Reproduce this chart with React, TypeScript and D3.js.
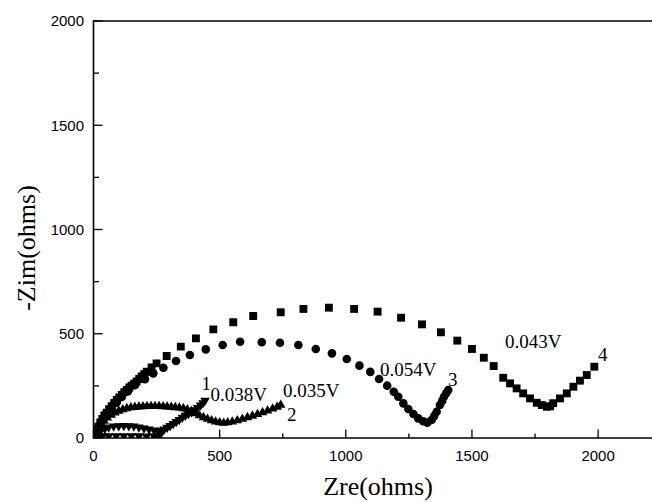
import React from 'react';
import * as d3 from 'd3';

// Nyquist plots: Zre (ohms) vs -Zim (ohms) at different potentials
const xTickValues = [0, 500, 1000, 1500, 2000];
const yTickValues = [0, 500, 1000, 1500, 2000];
const minorStep = 250;

// 0.038V (down triangles)
const series1: [number, number][] = [
  [0, 0], [15, 8], [35, 9], [60, 9], [90, 10], [120, 10], [150, 10], [180, 9], [210, 8], [240, 8], [262, 10],
  [8, 15], [18, 28], [30, 38], [45, 46], [60, 52], [80, 56], [100, 58], [120, 59], [140, 58], [160, 56],
  [180, 52], [200, 47], [220, 42], [240, 37], [258, 33], [270, 36], [280, 42], [292, 50], [304, 59],
  [316, 68], [328, 78], [340, 88], [352, 98], [364, 108], [376, 117], [388, 125], [400, 134], [412, 145],
  [424, 157], [434, 168], [442, 180],
];

// 0.035V (up triangles)
const series2: [number, number][] = [
  [0, 0], [6, 18], [12, 34], [20, 50], [30, 66], [42, 82], [55, 97], [70, 110], [85, 121], [100, 130],
  [116, 137], [132, 142], [148, 146], [164, 148], [180, 150], [196, 151], [212, 152], [228, 152],
  [244, 152], [260, 152], [276, 151], [292, 150], [308, 149], [324, 147], [340, 145], [356, 142],
  [372, 137], [388, 128], [404, 118], [420, 108], [436, 99], [452, 91], [468, 84], [484, 78], [500, 74],
  [516, 72], [532, 74], [550, 78], [570, 84], [590, 91], [610, 99], [630, 106], [650, 114], [670, 122],
  [690, 131], [710, 140], [728, 149], [742, 158],
];

// 0.054V (circles)
const series3: [number, number][] = [
  [0, 2], [5, 10], [10, 25], [18, 45], [28, 68], [40, 92], [55, 118], [72, 145], [92, 172], [113, 198],
  [137, 225], [165, 254], [204, 282], [237, 310], [277, 337], [327, 369], [382, 398], [445, 425],
  [512, 446], [581, 462], [667, 459], [739, 457], [812, 446], [881, 427], [945, 406], [1004, 379],
  [1054, 347], [1097, 317], [1132, 283], [1164, 251], [1190, 222], [1208, 198], [1228, 166],
  [1248, 139], [1268, 115], [1287, 94], [1307, 80], [1323, 73], [1340, 86], [1350, 105], [1360, 126],
  [1373, 158], [1382, 178], [1389, 198], [1398, 215], [1406, 230],
];

// 0.043V (squares)
const series4: [number, number][] = [
  [0, 2], [6, 8], [12, 30], [19, 54], [27, 75], [35, 92], [43, 108], [52, 122], [62, 138], [72, 152],
  [82, 168], [92, 182], [102, 195], [112, 207], [122, 220], [132, 231], [142, 242], [151, 251],
  [161, 261], [171, 271], [181, 283], [191, 295], [201, 306], [211, 318], [230, 339], [250, 358],
  [290, 393], [346, 438], [406, 478], [475, 521], [554, 555], [633, 585], [742, 603], [832, 619],
  [933, 625], [1033, 619], [1126, 606], [1219, 577], [1302, 545], [1377, 507], [1442, 467],
  [1500, 427], [1547, 385], [1586, 345], [1624, 289], [1651, 262], [1677, 238], [1703, 214],
  [1730, 190], [1757, 169], [1777, 158], [1797, 150], [1810, 152], [1822, 167], [1849, 190],
  [1876, 214], [1902, 246], [1928, 275], [1955, 302], [1985, 342],
];

// Potential and curve-number labels, placed in data units
const labelTexts = ['0.043V', '4', '0.054V', '3', '1', '0.038V', '0.035V', '2'];
const labelZre = [1631, 2000, 1136, 1405, 428, 464, 751, 767];
const labelZim = [432, 369, 297, 249, 228, 177, 197, 82];

const W = 652;
const H = 502;
const left = 93.5;
const top = 21;
const bottom = 438;
const pxPerOhm = 0.2523;

export default function App() {
  const x = d3.scaleLinear().domain([0, 2250]).range([left, left + 2250 * pxPerOhm]);
  const y = d3.scaleLinear().domain([0, 2000]).range([bottom, top]);
  const right = x(2250);

  const sq = d3.symbol().type(d3.symbolSquare).size(62)() as string;
  const circ = d3.symbol().type(d3.symbolCircle).size(58)() as string;
  const tri = d3.symbol().type(d3.symbolTriangle).size(40)() as string;

  const minorX = d3.range(0, 2251, minorStep);
  const minorY = d3.range(0, 2001, minorStep);

  const sans = "'Liberation Sans', Arial, sans-serif";
  const serif = "'Liberation Serif', 'Times New Roman', serif";

  const renderSeries = (data: [number, number][], path: string, rotate = 0) =>
    data.map(([zr, zi], i) => (
      <path
        key={i}
        d={path}
        fill="#000"
        transform={`translate(${x(zr)},${y(zi)})${rotate ? ` rotate(${rotate})` : ''}`}
      />
    ));

  return (
    <svg
      width={W}
      height={H}
      style={{ position: 'absolute', left: 0, top: 0, background: '#fff' }}
    >
      <defs>
        <clipPath id="plotClip">
          <rect x={left} y={top} width={right - left} height={bottom - top} />
        </clipPath>
      </defs>
      <rect x={0} y={0} width={W} height={H} fill="#fff" />

      <g clipPath="url(#plotClip)">
        {renderSeries(series4, sq)}
        {renderSeries(series3, circ)}
        {renderSeries(series2, tri)}
        {renderSeries(series1, tri, 180)}
      </g>

      {/* frame */}
      <path
        d={`M${right},${top}H${left}V${bottom}H${right}`}
        fill="none"
        stroke="#000"
        strokeWidth={1.6}
      />

      {/* ticks */}
      {minorX.map((v) => (
        <line
          key={`mx${v}`}
          x1={x(v)}
          x2={x(v)}
          y1={bottom}
          y2={bottom - (v % 500 === 0 ? 8.5 : 4.5)}
          stroke="#000"
          strokeWidth={1.3}
        />
      ))}
      {minorY.map((v) => (
        <line
          key={`my${v}`}
          x1={left}
          x2={left + (v % 500 === 0 ? 9 : 5.5)}
          y1={y(v)}
          y2={y(v)}
          stroke="#000"
          strokeWidth={1.3}
        />
      ))}

      {xTickValues.map((v) => (
        <text
          key={`xt${v}`}
          x={x(v)}
          y={460.5}
          textAnchor="middle"
          fontFamily={sans}
          fontSize={15}
        >
          {v}
        </text>
      ))}
      {yTickValues.map((v) => (
        <text
          key={`yt${v}`}
          x={84}
          y={y(v) + 5.3}
          textAnchor="end"
          fontFamily={sans}
          fontSize={15}
        >
          {v}
        </text>
      ))}

      <text x={378} y={495} textAnchor="middle" fontFamily={serif} fontSize={26}>
        Zre(ohms)
      </text>
      <text
        transform={`translate(35,248) rotate(-90)`}
        textAnchor="middle"
        fontFamily={serif}
        fontSize={26}
      >
        -Zim(ohms)
      </text>

      {labelTexts.map((t, i) => (
        <text
          key={`lb${i}`}
          x={x(labelZre[i])}
          y={y(labelZim[i])}
          fontFamily={serif}
          fontSize={19}
        >
          {t}
        </text>
      ))}
    </svg>
  );
}
